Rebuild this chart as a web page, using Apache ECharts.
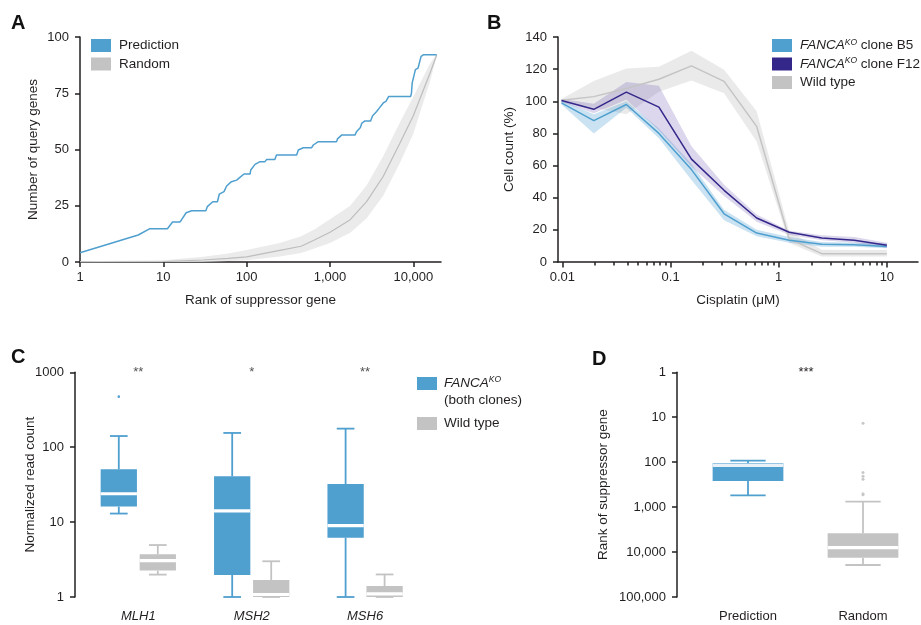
<!DOCTYPE html>
<html>
<head>
<meta charset="utf-8">
<script src="https://cdn.jsdelivr.net/npm/echarts@6/dist/echarts.min.js"></script>
<style>
  html, body { margin: 0; padding: 0; background: #fff; }
  #chart { width: 921px; height: 625px; }
</style>
</head>
<body>
<div id="chart"></div>
<script>
// A: cumulative number of query genes vs rank of suppressor gene
const predRank = [1, 5, 6.9, 11.2, 12.9, 15.8, 16.5, 18.8, 21.9, 32.4, 33.7, 39.2, 44.6, 47, 53.5, 57.5, 65.7, 75.9, 83, 93,
  110, 112, 126, 145, 166, 174, 218, 228, 398, 417, 479, 603, 631, 724, 1202, 1230, 1380, 1995, 2080, 2320,
  2400, 2630, 3070, 3250, 3630, 3900, 4365, 4700, 5070, 9300, 9500, 9700, 10600, 11400, 12400, 13200, 19100];
const predCount = [4.1, 12, 14.8, 14.8, 17.8, 17.8, 18.7, 21.9, 22.8, 22.8, 24.6, 26.8, 26.8, 30.2, 31.3, 33.8, 35.7, 36.4, 37.6, 39.1,
  39.1, 40.9, 43.4, 44.6, 44.6, 45.6, 45.6, 47.6, 47.6, 49.8, 50.8, 50.8, 52, 53.5, 53.5, 54.7, 56.4, 56.4, 57.9, 59.8,
  61.6, 62.7, 62.7, 65, 66.9, 68.4, 70.7, 71.4, 73.6, 73.6, 75, 79.6, 85.5, 86.2, 91.4, 92.1, 92.1];
const randRank = [1, 10, 30, 60, 100, 250, 450, 650, 1000, 1750, 2750, 4350, 6900, 10000, 15800, 19100];
const randMean = [0, 0.2, 0.9, 1.6, 2.3, 5.2, 7, 9.8, 13.2, 18.8, 26.8, 38, 52.8, 65, 83.8, 92];
const randLow = [0, 0, 0.1, 0.4, 0.8, 2.5, 4, 6, 8.5, 13, 19.5, 29.5, 44, 57, 80, 91.5];
const randHigh = [0.3, 0.8, 2.3, 3.8, 5.3, 8.5, 11.5, 14.5, 19, 25, 34, 47, 62, 73.5, 88, 92.5];
const aTicks = [1, 10, 100, 1000, 10000];

// B: cell count vs cisplatin dose
const dose = [0.0098, 0.0195, 0.039, 0.078, 0.156, 0.3125, 0.625, 1.25, 2.5, 5, 10];
const b5Mean = [99, 88, 98, 80, 57.5, 30, 18, 13.5, 11, 10.8, 9.7];
const b5Low = [98, 80, 96, 77, 51, 26, 16, 12, 9.5, 9.5, 8.5];
const b5High = [100.5, 92, 100, 83, 61, 32.5, 20, 15.5, 12.4, 12, 11.5];
const f12Mean = [100.5, 95, 105.7, 96.4, 64, 44.6, 27.4, 18.5, 15, 13.5, 10.4];
const f12Low = [99.5, 92.5, 101, 82, 59.5, 41, 25, 17, 13.5, 12, 8.7];
const f12High = [101.5, 98.5, 112, 109.7, 72, 48, 29.5, 19.5, 16.6, 15.5, 12];
const wtMean = [100.6, 102.9, 108, 113.7, 122, 112.4, 84.4, 14.3, 5.2, 5.2, 5.2];
const wtLow = [99.5, 96, 92, 106, 113, 105, 75, 11.8, 3.5, 3.5, 3.5];
const wtHigh = [101.5, 112.6, 120.4, 121.5, 131.5, 119.7, 93.8, 19, 7.7, 7.5, 7.5];
const bTicks = [0.01, 0.1, 1, 10];
const bMinorTicks = [0.02, 0.03, 0.04, 0.05, 0.06, 0.07, 0.08, 0.09,
  0.2, 0.3, 0.4, 0.5, 0.6, 0.7, 0.8, 0.9, 2, 3, 4, 5, 6, 7, 8, 9];

// C: normalized read counts, [min, q1, median, q3, max]
const genes = ['MLH1', 'MSH2', 'MSH6'];
const fancaBox = [[13, 16.1, 23.9, 50.7, 141], [1, 1.97, 14.1, 40.8, 155], [1, 6.2, 8.96, 32.3, 177]];
const wtBox = [[1.99, 2.25, 3.06, 3.71, 4.94], [1, 1, 1.08, 1.69, 3.0], [1, 1, 1.1, 1.4, 2.0]];
const fancaOutliers = [[0, 473]];
const geneStars = ['**', '*', '**'];

// D: rank of suppressor gene, [min, q1, median, q3, max]
const rankGroups = ['Prediction', 'Random'];
const rankBox = [[92.4, 106, 118, 262, 546], [756, 3830, 7980, 13340, 19400]];
const randomOutliers = [13.6, 170, 205, 240, 505, 530];

const blue = '#4f9fcf';
const purple = '#33278a';
const gray = '#c3c3c3';
const ink = '#231f20';
const font = 'Liberation Sans';

function bandItem(params, api) {
  if (params.dataIndexInside !== 0) return null;
  const upper = [], lower = [];
  for (let i = 0; i < params.dataInsideLength; i++) {
    const x = api.value(0, i);
    upper.push(api.coord([x, api.value(2, i)]));
    lower.push(api.coord([x, api.value(1, i)]));
  }
  return {
    type: 'polygon',
    shape: { points: upper.concat(lower.reverse()) },
    style: { fill: api.visual('color') }
  };
}

function boxItem(shift, boxFrac, capFrac, fill, medColor) {
  return function (params, api) {
    const cat = api.value(0);
    const band = api.size([1, 0])[0];
    const x = api.coord([cat, api.value(3)])[0] + shift * band;
    const y = (d) => api.coord([cat, api.value(d)])[1];
    const w = band * boxFrac, c = band * capFrac;
    const yMin = y(1), yQ1 = y(2), yMed = y(3), yQ3 = y(4), yMax = y(5);
    const seg = (x1, y1, x2, y2) => ({
      type: 'line', shape: { x1, y1, x2, y2 }, style: { stroke: fill, lineWidth: 1.8 }
    });
    return {
      type: 'group',
      children: [
        seg(x, yMin, x, yQ1), seg(x, yQ3, x, yMax),
        seg(x - c / 2, yMin, x + c / 2, yMin), seg(x - c / 2, yMax, x + c / 2, yMax),
        { type: 'rect', shape: { x: x - w / 2, y: Math.min(yQ1, yQ3), width: w, height: Math.abs(yQ1 - yQ3) }, style: { fill } },
        { type: 'rect', shape: { x: x - w / 2, y: yMed - 1.6, width: w, height: 3.2 }, style: { fill: medColor } }
      ]
    };
  };
}

function dotItem(shift, r) {
  return function (params, api) {
    const band = api.size([1, 0])[0];
    const p = api.coord([api.value(0), api.value(1)]);
    return { type: 'circle', shape: { cx: p[0] + shift * band, cy: p[1], r }, style: { fill: api.visual('color') } };
  };
}

const axisLineStyle = { color: ink, width: 1.5 };
const nameStyle = { fontSize: 13.5, color: ink, fontFamily: font };
const labelStyle = { fontSize: 13, color: ink, fontFamily: font };
const legendRich = {
  i: { fontStyle: 'italic', fontSize: 13.5, fontFamily: font, color: ink },
  s: { fontStyle: 'italic', fontSize: 8.5, fontFamily: font, color: ink, verticalAlign: 'top', lineHeight: 8 }
};
const legendNames = {
  'B5': '{i|FANCA}{s|KO} clone B5',
  'F12': '{i|FANCA}{s|KO} clone F12',
  'Wild type B': 'Wild type',
  'FANCA both': '{i|FANCA}{s|KO}\n(both clones)',
  'Wild type C': 'Wild type'
};
const legendBase = {
  orient: 'vertical', icon: 'rect', itemWidth: 20, itemHeight: 13, padding: 0,
  selectedMode: false, itemStyle: { borderWidth: 0 },
  formatter: (n) => legendNames[n] || n
};

const chart = echarts.init(document.getElementById('chart'));

const option = {
  animation: false,
  backgroundColor: '#fff',
  textStyle: { fontFamily: font, color: ink },
  title: [
    { text: 'A', left: 11, top: 13 },
    { text: 'B', left: 487, top: 13 },
    { text: 'C', left: 11, top: 347 },
    { text: 'D', left: 592, top: 349 }
  ].map(t => Object.assign(t, { padding: 0, textStyle: { fontSize: 20, fontWeight: 'bold', color: '#111', fontFamily: font } })),
  legend: [
    Object.assign({}, legendBase, {
      left: 91, top: 38, itemGap: 3.5,
      data: ['Prediction', 'Random'],
      textStyle: { fontSize: 13.5, color: ink, lineHeight: 15, padding: [0, 0, 0, 3] }
    }),
    Object.assign({}, legendBase, {
      left: 772, top: 38, itemGap: 3.5,
      data: ['B5', 'F12', 'Wild type B'],
      textStyle: { fontSize: 13.5, color: ink, lineHeight: 15, padding: [0, 0, 0, 3], rich: legendRich }
    }),
    Object.assign({}, legendBase, {
      left: 417, top: 375, itemGap: 7.5,
      data: [
        { name: 'FANCA both', textStyle: { padding: [0, 0, -17, 2] } },
        { name: 'Wild type C', textStyle: { padding: [0, 0, 0, 2] } }
      ],
      textStyle: { fontSize: 13.5, color: ink, lineHeight: 17, rich: legendRich }
    })
  ],
  grid: [
    { left: 80, top: 37, width: 361, height: 225 },
    { left: 558, top: 37, width: 360, height: 225 },
    { left: 81.6, top: 372.3, width: 340.2, height: 224.7 },
    { left: 690.5, top: 372.3, width: 230, height: 224.7 }
  ],
  xAxis: [
    {
      gridIndex: 0, type: 'log', min: 1, max: 21500,
      name: 'Rank of suppressor gene', nameLocation: 'middle', nameGap: 31, nameTextStyle: nameStyle,
      axisLine: { onZero: false, lineStyle: axisLineStyle },
      axisTick: { customValues: aTicks, length: 5, lineStyle: axisLineStyle },
      axisLabel: Object.assign({ customValues: aTicks, margin: 9, formatter: v => Number(v).toLocaleString('en-US') }, labelStyle),
      splitLine: { show: false }
    },
    {
      gridIndex: 1, type: 'log', min: 0.0091, max: 19.4,
      name: 'Cisplatin (μM)', nameLocation: 'middle', nameGap: 31, nameTextStyle: nameStyle,
      axisLine: { onZero: false, lineStyle: axisLineStyle },
      axisTick: { customValues: bTicks, length: 5.5, lineStyle: axisLineStyle },
      axisLabel: Object.assign({ customValues: bTicks, margin: 9, formatter: v => String(v) }, labelStyle),
      splitLine: { show: false }
    },
    {
      gridIndex: 1, type: 'log', min: 0.0091, max: 19.4, position: 'bottom',
      axisLine: { show: false },
      axisTick: { customValues: bMinorTicks, length: 3.5, lineStyle: axisLineStyle },
      axisLabel: { show: false },
      splitLine: { show: false }
    },
    {
      gridIndex: 2, type: 'category', data: genes,
      axisLine: { show: false }, axisTick: { show: false },
      axisLabel: Object.assign({ margin: 13, fontStyle: 'italic' }, labelStyle)
    },
    {
      gridIndex: 3, type: 'category', data: rankGroups,
      axisLine: { show: false }, axisTick: { show: false },
      axisLabel: Object.assign({ margin: 13 }, labelStyle)
    }
  ],
  yAxis: [
    {
      gridIndex: 0, type: 'value', min: 0, max: 100, interval: 25,
      name: 'Number of query genes', nameLocation: 'middle', nameGap: 40, nameTextStyle: nameStyle,
      nameMoveOverlap: false,
      axisLine: { show: true, onZero: false, lineStyle: axisLineStyle },
      axisTick: { show: true, length: 5, lineStyle: axisLineStyle },
      axisLabel: Object.assign({ margin: 11 }, labelStyle),
      splitLine: { show: false }
    },
    {
      gridIndex: 1, type: 'value', min: 0, max: 140, interval: 20,
      name: 'Cell count (%)', nameLocation: 'middle', nameGap: 42, nameTextStyle: nameStyle,
      nameMoveOverlap: false,
      axisLine: { show: true, onZero: false, lineStyle: axisLineStyle },
      axisTick: { show: true, length: 5, lineStyle: axisLineStyle },
      axisLabel: Object.assign({ margin: 11 }, labelStyle),
      splitLine: { show: false }
    },
    {
      gridIndex: 2, type: 'log', min: 1, max: 1000, offset: 6.6,
      name: 'Normalized read count', nameLocation: 'middle', nameGap: 37.5, nameTextStyle: nameStyle,
      nameMoveOverlap: false,
      axisLine: { show: true, onZero: false, lineStyle: axisLineStyle },
      axisTick: { show: true, length: 5, lineStyle: axisLineStyle },
      axisLabel: Object.assign({ margin: 11, formatter: v => String(v) }, labelStyle),
      splitLine: { show: false }
    },
    {
      gridIndex: 3, type: 'log', min: 1, max: 100000, inverse: true, offset: 13.5,
      name: 'Rank of suppressor gene', nameLocation: 'middle', nameGap: 67, nameTextStyle: nameStyle,
      nameMoveOverlap: false,
      axisLine: { show: true, onZero: false, lineStyle: axisLineStyle },
      axisTick: { show: true, length: 5, lineStyle: axisLineStyle },
      axisLabel: Object.assign({ margin: 11, formatter: v => Number(v).toLocaleString('en-US') }, labelStyle),
      splitLine: { show: false }
    }
  ],
  graphic: [
    { type: 'text', x: 806, y: 372, style: { text: '***', align: 'center', verticalAlign: 'middle', font: '13px "Liberation Sans"', fill: ink } }
  ],
  series: [
    // A
    {
      name: 'Random band', type: 'custom', xAxisIndex: 0, yAxisIndex: 0,
      itemStyle: { color: '#ebebeb' }, renderItem: bandItem, encode: { x: 0, y: [1, 2] },
      data: randRank.map((r, i) => [r, randLow[i], randHigh[i]])
    },
    {
      name: 'Random', type: 'line', xAxisIndex: 0, yAxisIndex: 0, symbol: 'none',
      itemStyle: { color: gray }, lineStyle: { color: '#bdbdbd', width: 1.2 },
      data: randRank.map((r, i) => [r, randMean[i]])
    },
    {
      name: 'Prediction', type: 'line', xAxisIndex: 0, yAxisIndex: 0, symbol: 'none',
      itemStyle: { color: blue }, lineStyle: { color: blue, width: 1.5 },
      data: predRank.map((r, i) => [r, predCount[i]])
    },
    // B
    {
      name: 'WT band', type: 'custom', xAxisIndex: 1, yAxisIndex: 1,
      itemStyle: { color: 'rgba(190,190,190,0.32)' }, renderItem: bandItem, encode: { x: 0, y: [1, 2] },
      data: dose.map((d, i) => [d, wtLow[i], wtHigh[i]])
    },
    {
      name: 'B5 band', type: 'custom', xAxisIndex: 1, yAxisIndex: 1,
      itemStyle: { color: 'rgba(79,159,207,0.3)' }, renderItem: bandItem, encode: { x: 0, y: [1, 2] },
      data: dose.map((d, i) => [d, b5Low[i], b5High[i]])
    },
    {
      name: 'F12 band', type: 'custom', xAxisIndex: 1, yAxisIndex: 1,
      itemStyle: { color: 'rgba(95,75,170,0.22)' }, renderItem: bandItem, encode: { x: 0, y: [1, 2] },
      data: dose.map((d, i) => [d, f12Low[i], f12High[i]])
    },
    {
      name: 'Wild type B', type: 'line', xAxisIndex: 1, yAxisIndex: 1, symbol: 'none',
      itemStyle: { color: gray }, lineStyle: { color: '#c4c4c4', width: 1.5 },
      data: dose.map((d, i) => [d, wtMean[i]])
    },
    {
      name: 'B5', type: 'line', xAxisIndex: 1, yAxisIndex: 1, symbol: 'none',
      itemStyle: { color: blue }, lineStyle: { color: blue, width: 1.5 },
      data: dose.map((d, i) => [d, b5Mean[i]])
    },
    {
      name: 'F12', type: 'line', xAxisIndex: 1, yAxisIndex: 1, symbol: 'none',
      itemStyle: { color: purple }, lineStyle: { color: purple, width: 1.5 },
      data: dose.map((d, i) => [d, f12Mean[i]])
    },
    // C
    {
      name: 'FANCA both', type: 'custom', xAxisIndex: 3, yAxisIndex: 2,
      itemStyle: { color: blue }, renderItem: boxItem(-0.172, 0.32, 0.156, blue, '#ffffff'),
      encode: { x: 0, y: [1, 2, 3, 4, 5] },
      data: fancaBox.map((b, i) => [i].concat(b))
    },
    {
      name: 'Wild type C', type: 'custom', xAxisIndex: 3, yAxisIndex: 2,
      itemStyle: { color: gray }, renderItem: boxItem(0.172, 0.32, 0.156, gray, '#ffffff'),
      encode: { x: 0, y: [1, 2, 3, 4, 5] },
      data: wtBox.map((b, i) => [i].concat(b))
    },
    {
      name: 'FANCA outliers', type: 'custom', xAxisIndex: 3, yAxisIndex: 2,
      itemStyle: { color: blue }, renderItem: dotItem(-0.172, 1.3), encode: { x: 0, y: 1 },
      data: fancaOutliers
    },
    {
      name: 'stars C', type: 'scatter', xAxisIndex: 3, yAxisIndex: 2, symbolSize: 1,
      itemStyle: { color: 'rgba(0,0,0,0)' },
      label: { show: true, position: 'inside', formatter: p => geneStars[p.dataIndex], fontSize: 13, color: ink },
      data: genes.map((g, i) => [i, 1000])
    },
    // D
    {
      name: 'rank boxes', type: 'custom', xAxisIndex: 4, yAxisIndex: 3,
      renderItem: function (params, api) {
        const first = params.dataIndex === 0;
        return boxItem(0, 0.615, 0.307, first ? blue : gray, first ? '#e8f1f8' : '#ffffff')(params, api);
      },
      encode: { x: 0, y: [1, 2, 3, 4, 5] },
      data: rankBox.map((b, i) => [i].concat(b))
    },
    {
      name: 'random outliers', type: 'custom', xAxisIndex: 4, yAxisIndex: 3,
      itemStyle: { color: '#c8c8c8' }, renderItem: dotItem(0, 1.5), encode: { x: 0, y: 1 },
      data: randomOutliers.map(v => [1, v])
    }
  ]
};

chart.setOption(option);
window.addEventListener('resize', () => chart.resize());
</script>
</body>
</html>
